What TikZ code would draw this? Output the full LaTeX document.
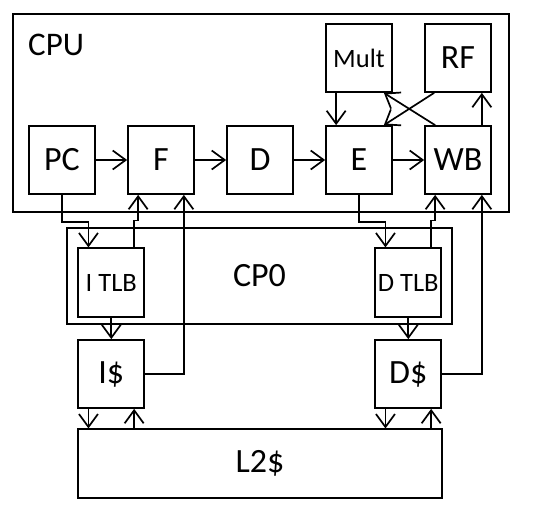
\documentclass[tikz,border=0pt]{standalone}
\usepackage{fontspec}
\setmainfont{Carlito}
\usetikzlibrary{positioning,arrows.meta}

\begin{document}
\begin{tikzpicture}[
    x=1pt, y=-1pt,
    node distance=99pt,
    box/.style={rectangle, draw, line width=1.7pt, minimum width=66pt, minimum height=68pt, inner sep=0pt, font=\fontsize{34}{40}\selectfont},
    smallbox/.style={box, font=\fontsize{26.5}{30}\selectfont},
    frame/.style={rectangle, draw, line width=1.7pt, inner sep=0pt, font=\fontsize{34}{40}\selectfont},
    arrow/.style={-{Straight Barb[length=13pt,width=19pt]}, line width=1.7pt}
]
    \useasboundingbox (0,0) rectangle (541,512);

    % CPU frame
    \node[frame, minimum width=496pt, minimum height=198pt] (cpu) at (261.3,113) {};
    \node[anchor=west, inner sep=0pt, font=\fontsize{33}{40}\selectfont] (cpulabel) at (28,45) {CPU};

    % Pipeline stages
    \node[box] (pc) at (62,160) {PC};
    \node[box, right of=pc] (f) {F};
    \node[box, right of=f] (d) {D};
    \node[box, right of=d] (e) {E};
    \node[box, right of=e] (wb) {WB};

    % Units above the pipeline
    \node[smallbox, above of=e, yshift=3pt] (mult) {Mult};
    \node[box, above of=wb, yshift=3pt] (rf) {RF};

    % CP0 frame with TLBs
    \node[frame, minimum width=384.4pt, minimum height=95.7pt] (cp0) at (259.5,276) {CP0};
    \node[smallbox, minimum height=68.5pt] (itlb) at (111.3,282.5) {I TLB};
    \node[smallbox, minimum height=68.5pt] (dtlb) at (408.3,282.5) {D TLB};

    % Caches
    \node[box, below of=itlb, yshift=7.5pt] (icache) {I\$};
    \node[box, below of=dtlb, yshift=7.5pt] (dcache) {D\$};
    \node[box, minimum width=363.4pt, minimum height=69pt] (l2) at (260,463.8) {L2\$};

    % Arrows in the pipeline
    \draw[arrow] (pc) -- (f);
    \draw[arrow] (f) -- (d);
    \draw[arrow] (d) -- (e);
    \draw[arrow] (e) -- (wb);
    \draw[arrow] ([xshift=11pt]mult.south west) -- ([xshift=11pt]e.north west);
    \draw[arrow] ([xshift=10pt]rf.south west) -- ([xshift=-9pt]e.north east);
    \draw[arrow] ([xshift=11pt]wb.north west) -- ([xshift=-9pt]mult.south east);
    \draw[arrow] ([xshift=-10pt]wb.north east) -- ([xshift=-10pt]rf.south east);

    % Arrows between CPU and CP0
    \draw[arrow] (pc.south) -- ++(0,27) -| ([xshift=11pt]itlb.north west);
    \draw[arrow] ([xshift=-11pt]itlb.north east) -- ++(0,-27) -| ([xshift=11pt]f.south west);
    \draw[arrow] (e.south) -- ++(0,27) -| ([xshift=11pt]dtlb.north west);
    \draw[arrow] ([xshift=-11pt]dtlb.north east) -- ++(0,-27) -| ([xshift=11pt]wb.south west);

    % Arrows from the caches
    \draw[arrow] (icache.east) -| ([xshift=-11pt]f.south east);
    \draw[arrow] (dcache.east) -| ([xshift=-10pt]wb.south east);
    \draw[arrow] (itlb) -- (icache);
    \draw[arrow] (dtlb) -- (dcache);

    % Arrows to and from L2
    \draw[arrow] ([xshift=11pt]icache.south west) -- ([xshift=11pt]icache.south west |- l2.north);
    \draw[arrow] ([xshift=-11pt]icache.south east |- l2.north) -- ([xshift=-11pt]icache.south east);
    \draw[arrow] ([xshift=11pt]dcache.south west) -- ([xshift=11pt]dcache.south west |- l2.north);
    \draw[arrow] ([xshift=-11pt]dcache.south east |- l2.north) -- ([xshift=-11pt]dcache.south east);
\end{tikzpicture}
\end{document}
